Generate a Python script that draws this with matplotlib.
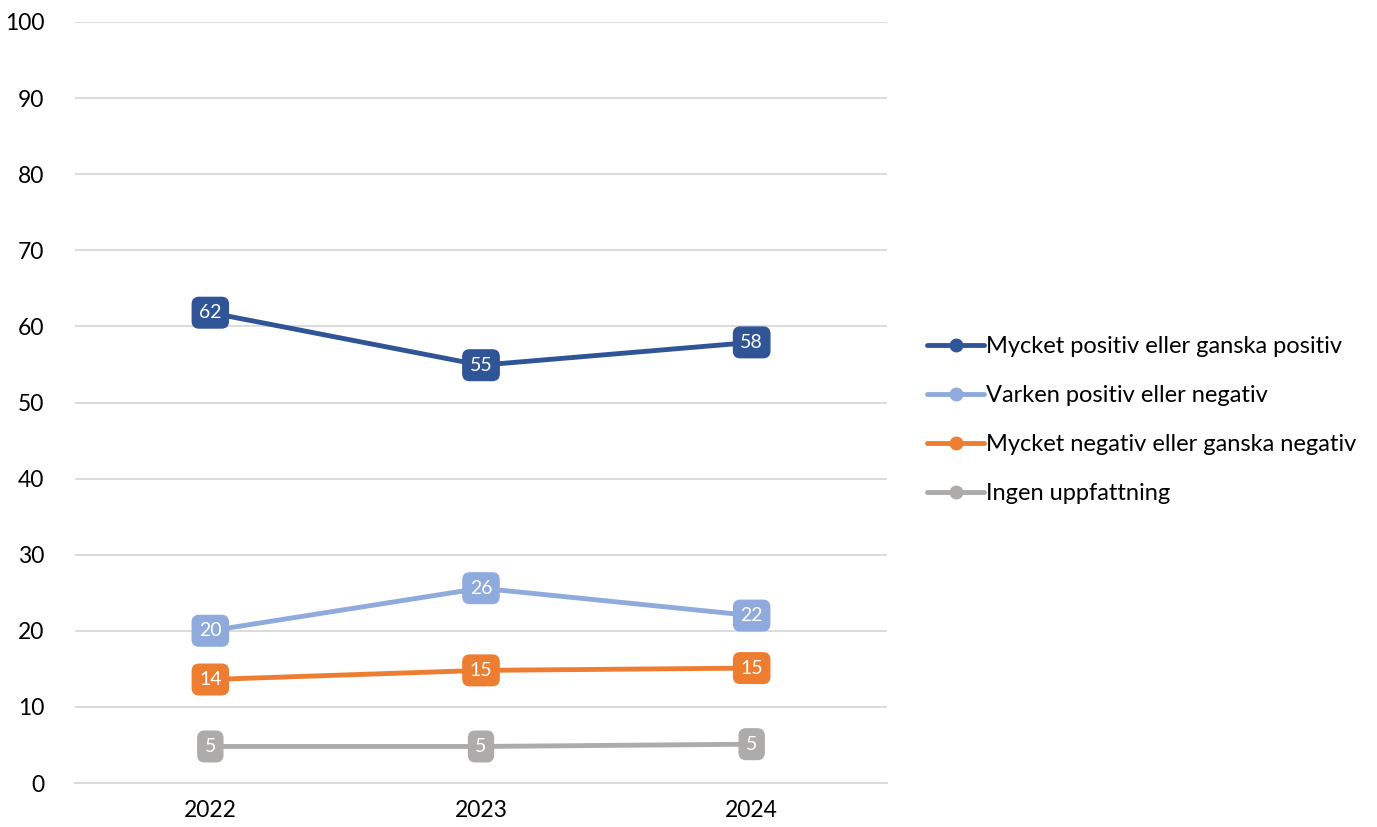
import matplotlib
matplotlib.use("Agg")
import matplotlib.pyplot as plt

years = ["2022", "2023", "2024"]
series_names = [
    "Mycket positiv eller ganska positiv",
    "Varken positiv eller negativ",
    "Mycket negativ eller ganska negativ",
    "Ingen uppfattning",
]
positive = [61.8, 54.9, 57.9]
neutral = [20.0, 25.6, 22.0]
negative = [13.6, 14.8, 15.1]
no_view = [4.8, 4.8, 5.1]
colors = ["#2F5597", "#8FAADC", "#ED7D31", "#AEABAB"]
y_ticks = [0, 10, 20, 30, 40, 50, 60, 70, 80, 90, 100]

plt.rcParams['font.family'] = ['Lato', 'DejaVu Sans']

fig = plt.figure(figsize=(13.77, 8.27), dpi=100)
ax = fig.add_axes([75/1377, 1-783/827, (887-75)/1377, (783-22)/827])

x = list(range(len(years)))
all_series = [positive, neutral, negative, no_view]
for name, vals, c in zip(series_names, all_series, colors):
    ax.plot(x, vals, color=c, lw=3.5, marker='o', ms=9, label=name,
            solid_capstyle='round', zorder=3)
    for xi, v in zip(x, vals):
        ax.text(xi, v, f"{round(v)}", ha='center', va='center', color='white',
                fontsize=14, zorder=5,
                bbox=dict(boxstyle='round,pad=0.35,rounding_size=0.35', fc=c, ec=c, lw=1))

ax.set_xlim(-0.5, 2.5)
ax.set_ylim(0, 100)
ax.set_yticks(y_ticks)
ax.set_xticks(x)
ax.set_xticklabels(years)
ax.grid(axis='y', color='#D9D9D9', lw=1.3)
ax.set_axisbelow(True)
for s in ['left', 'right', 'top']:
    ax.spines[s].set_visible(False)
ax.spines['bottom'].set_color('#D9D9D9')
ax.spines['bottom'].set_linewidth(1.3)
ax.tick_params(axis='both', length=0, labelsize=16.5, colors='black')
ax.tick_params(axis='y', pad=22)
ax.tick_params(axis='x', pad=12)

leg = fig.legend(loc='center left', bbox_to_anchor=(918/1377, 1-420/827), frameon=False,
                 borderaxespad=0, borderpad=0.4,
                 fontsize=17, handlelength=2.4, handletextpad=0.1, labelspacing=1.18)

fig.savefig("out.png", dpi=100)
